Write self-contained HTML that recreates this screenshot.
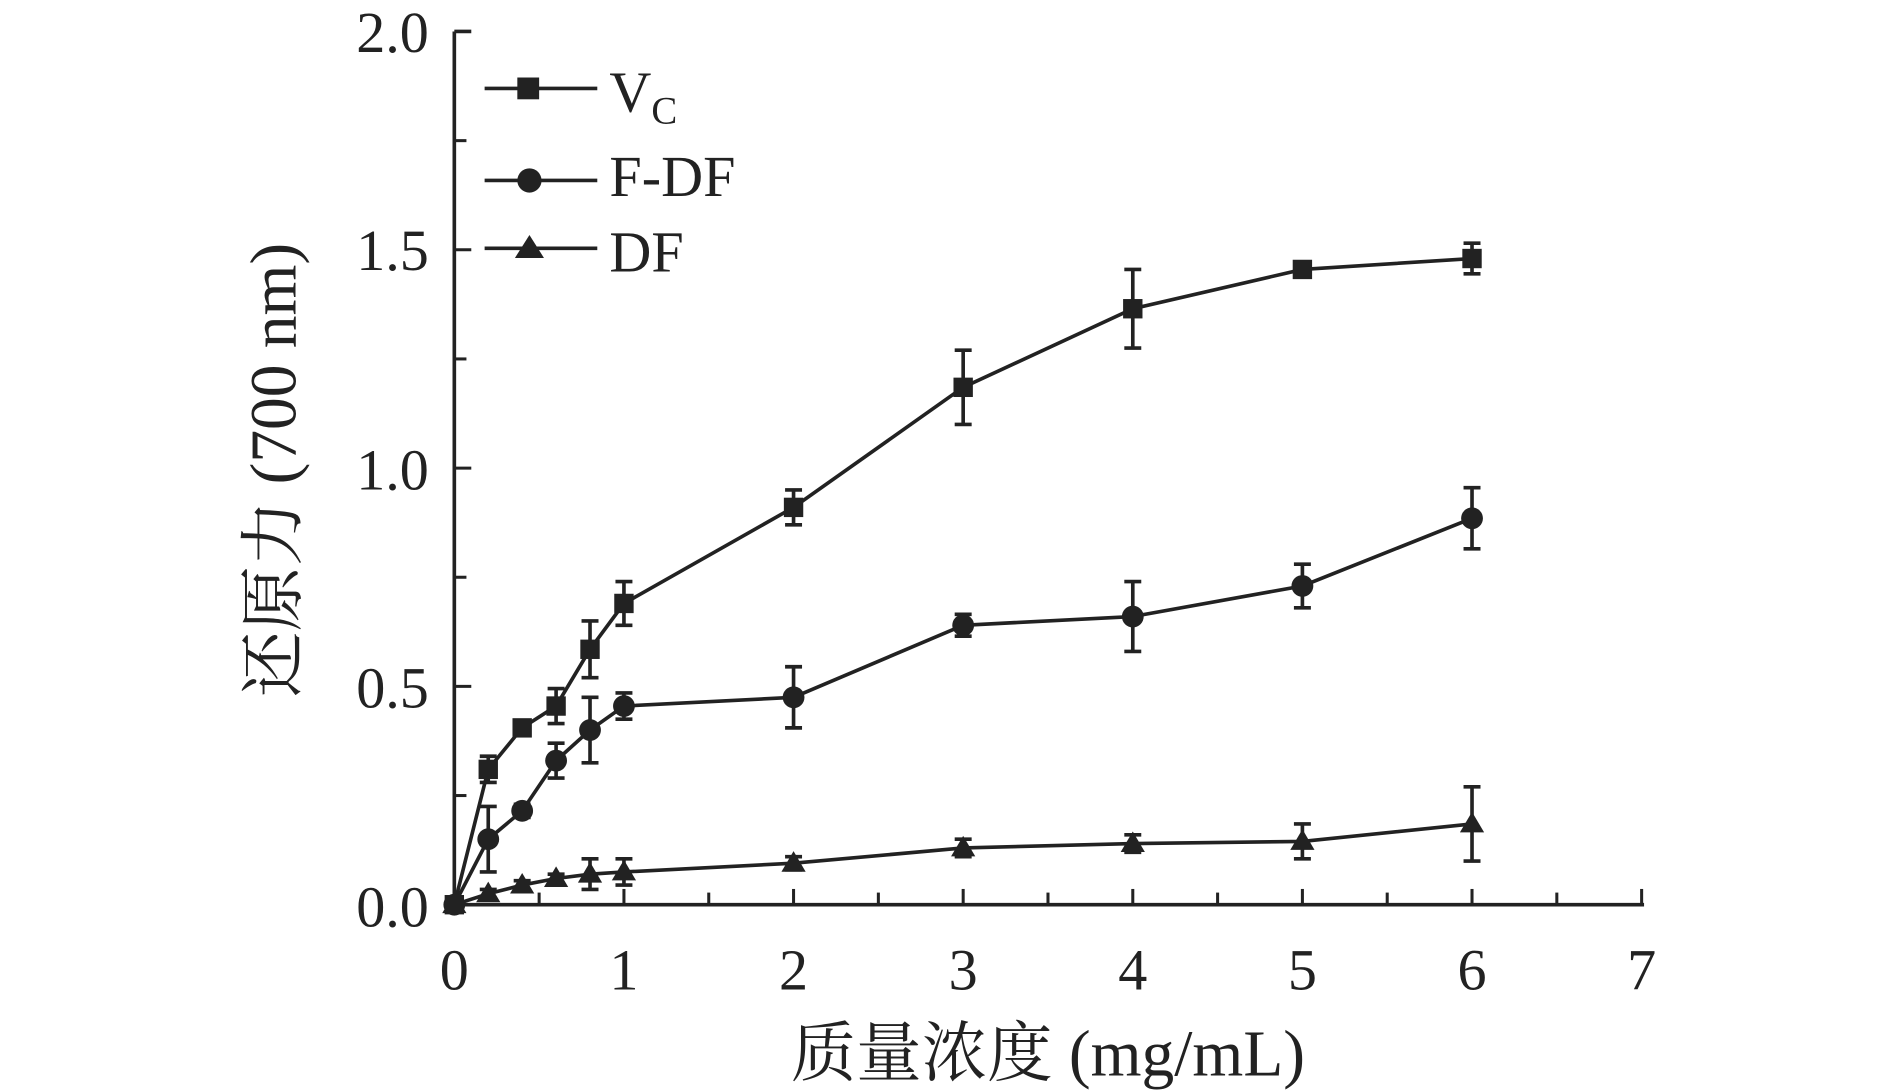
<!DOCTYPE html>
<html><head><meta charset="utf-8"><style>
html,body{margin:0;padding:0;background:#fff;width:1890px;height:1090px;overflow:hidden}
svg{display:block}
text{font-family:"Liberation Serif","Noto Serif CJK SC",serif;fill:#222}
</style></head><body>
<svg id="s" width="1890" height="1090" viewBox="0 0 1560 900" preserveAspectRatio="none">
<g stroke="#222" stroke-width="3" fill="none">
<path d="M375,26 L375,747 L1357,747"/>
<path d="M375,26 L389,26"/>
</g>
<g id="ticks" stroke="#222" stroke-width="2.5"></g>
<g font-size="48" text-anchor="end">
<text x="354" y="43">2.0</text><text x="354" y="223">1.5</text><text x="354" y="404">1.0</text><text x="354" y="584">0.5</text><text x="354" y="765">0.0</text>
</g>
<g font-size="48" text-anchor="middle">
<text x="375" y="817">0</text><text x="515" y="817">1</text><text x="655" y="817">2</text><text x="795" y="817">3</text><text x="935" y="817">4</text><text x="1075" y="817">5</text><text x="1215" y="817">6</text><text x="1355" y="817">7</text>
</g>
<text x="865" y="888" font-size="54" text-anchor="middle">质量浓度 (mg/mL)</text>
<text transform="translate(244,388) rotate(-90)" font-size="54" text-anchor="middle">还原力 (700 nm)</text>
<g id="data"></g>
<g stroke="#222" stroke-width="3">
<line x1="400" y1="73" x2="493" y2="73"/><line x1="400" y1="149" x2="493" y2="149"/><line x1="400" y1="205" x2="493" y2="205"/>
</g>
<rect x="427" y="64" width="18" height="18" fill="#222"/>
<circle cx="437" cy="149" r="10" fill="#222"/>
<polygon points="437,194 449,213 425,213" fill="#222"/>
<text x="503" y="92" font-size="48">V<tspan font-size="32" dy="10">C</tspan></text>
<text x="503" y="162" font-size="48">F-DF</text>
<text x="503" y="224" font-size="48">DF</text>
</svg>
<script>
function X(v){return 375+140*v}function Y(v){return 747-360.5*v}
var t=document.getElementById('ticks'),s='';
for(var i=1;i<=14;i++){var x=375+70*i;s+='<line x1="'+x+'" y1="747" x2="'+x+'" y2="'+(i%2?737:734)+'"/>';}
for(var j=1;j<8;j++){var y=Y(j*0.25);s+='<line x1="375" y1="'+y+'" x2="'+(j%2?385:389)+'" y2="'+y+'"/>';}
t.innerHTML=s;
var xs=[0,0.2,0.4,0.6,0.8,1,2,3,4,5,6];
var S=[
{y:[0,0.31,0.405,0.455,0.585,0.69,0.91,1.185,1.365,1.455,1.48],e:[0,0.03,0.015,0.04,0.065,0.05,0.04,0.085,0.09,0.015,0.035],m:'s'},
{y:[0,0.15,0.215,0.33,0.40,0.455,0.475,0.64,0.66,0.73,0.885],e:[0,0.075,0.015,0.04,0.075,0.03,0.07,0.025,0.08,0.05,0.07],m:'c'},
{y:[0,0.025,0.045,0.06,0.07,0.075,0.095,0.13,0.14,0.145,0.185],e:[0,0.01,0.01,0.01,0.035,0.03,0.015,0.02,0.02,0.04,0.085],m:'t'}];
var d='';
S.forEach(function(r){
var p=xs.map(function(x,i){return X(x)+','+Y(r.y[i])}).join(' ');
d+='<polyline points="'+p+'" fill="none" stroke="#222" stroke-width="3"/>';
xs.forEach(function(x,i){var cx=X(x),cy=Y(r.y[i]),e=r.e[i]*360.5;
if(e>0){d+='<path d="M'+cx+','+(cy-e)+'V'+(cy+e)+'M'+(cx-7)+','+(cy-e)+'H'+(cx+7)+'M'+(cx-7)+','+(cy+e)+'H'+(cx+7)+'" stroke="#222" stroke-width="3"/>';}
if(r.m=='s')d+='<rect x="'+(cx-8)+'" y="'+(cy-8)+'" width="16" height="16" fill="#222"/>';
else if(r.m=='c')d+='<circle cx="'+cx+'" cy="'+cy+'" r="9" fill="#222"/>';
else d+='<polygon points="'+cx+','+(cy-10)+' '+(cx+10)+','+(cy+7)+' '+(cx-10)+','+(cy+7)+'" fill="#222"/>';
});});
document.getElementById('data').innerHTML=d;
</script>
</body></html>
